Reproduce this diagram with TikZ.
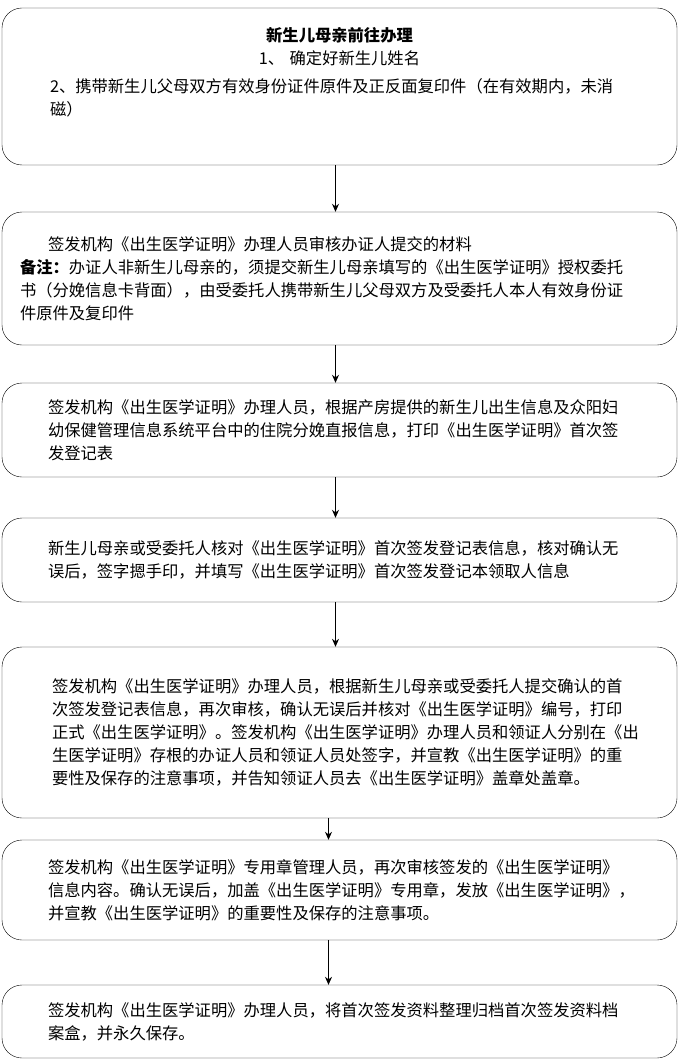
\documentclass[tikz,border=0pt]{standalone}
\usepackage{fontspec}
\setmainfont{Noto Sans CJK SC}
\usetikzlibrary{arrows.meta}
\tikzset{stepbox/.style={draw,rounded corners=20pt,minimum width=675pt,inner xsep=18pt,
		text width=639pt,align=left,font=\fontsize{16.3}{23}\selectfont},
	flow/.style={-{Stealth[length=8pt,width=7pt]},thick}}
\newcommand{\ind}[1][28pt]{\hspace*{#1}}
\begin{document}
\begin{tikzpicture}[x=1pt,y=-1pt]
	\useasboundingbox (0,0) rectangle (679,1062);
	\node[stepbox,minimum height=157pt] (b1) at (339.5,86.5) {%
		\makebox[639pt]{\bfseries 新生儿母亲前往办理}\\
		\makebox[639pt]{1、 确定好新生儿姓名}\\[5pt]
		\ind[30pt]2、携带新生儿父母双方有效身份证件原件及正反面复印件（在有效期内，未消\\
		\ind[30pt]磁）\\[8pt]
		\mbox{}};
	\node[stepbox,minimum height=133pt] (b2) at (339.5,278.5) {%
		\ind 签发机构《出生医学证明》办理人员审核办证人提交的材料\\
		\textbf{备注：}办证人非新生儿母亲的，须提交新生儿母亲填写的《出生医学证明》授权委托\\
		书（分娩信息卡背面），由受委托人携带新生儿父母双方及受委托人本人有效身份证\\
		件原件及复印件};
	\node[stepbox,minimum height=94pt] (b3) at (339.5,430) {%
		\ind 签发机构《出生医学证明》办理人员，根据产房提供的新生儿出生信息及众阳妇\\
		\ind 幼保健管理信息系统平台中的住院分娩直报信息，打印《出生医学证明》首次签\\
		\ind 发登记表};
	\node[stepbox,minimum height=84pt] (b4) at (339.5,560) {%
		\ind 新生儿母亲或受委托人核对《出生医学证明》首次签发登记表信息，核对确认无\\
		\ind 误后，签字摁手印，并填写《出生医学证明》首次签发登记本领取人信息};
	\node[stepbox,minimum height=171pt] (b5) at (339.5,732.5) {%
		\ind[32pt]签发机构《出生医学证明》办理人员，根据新生儿母亲或受委托人提交确认的首\\
		\ind[32pt]次签发登记表信息，再次审核，确认无误后并核对《出生医学证明》编号，打印\\
		\ind[32pt]正式《出生医学证明》。签发机构《出生医学证明》办理人员和领证人分别在《出\\
		\ind[32pt]生医学证明》存根的办证人员和领证人员处签字，并宣教《出生医学证明》的重\\
		\ind[32pt]要性及保存的注意事项，并告知领证人员去《出生医学证明》盖章处盖章。};
	\node[stepbox,minimum height=100pt] (b6) at (339.5,890) {%
		\ind 签发机构《出生医学证明》专用章管理人员，再次审核签发的《出生医学证明》\\
		\ind 信息内容。确认无误后，加盖《出生医学证明》专用章，发放《出生医学证明》，\\
		\ind 并宣教《出生医学证明》的重要性及保存的注意事项。};
	\node[stepbox,minimum height=73pt] (b7) at (339.5,1021.5) {%
		\ind 签发机构《出生医学证明》办理人员，将首次签发资料整理归档首次签发资料档\\
		\ind 案盒，并永久保存。};
	% connectors
	\draw[flow] ([xshift=-4pt]b1.south) -- ([xshift=-4pt]b2.north);
	\draw[flow] ([xshift=-4pt]b2.south) -- ([xshift=-4pt]b3.north);
	\draw[flow] ([xshift=-4pt]b3.south) -- ([xshift=-4pt]b4.north);
	\draw[flow] ([xshift=-4pt]b4.south) -- ([xshift=-4pt]b5.north);
	\draw[flow] ([xshift=-11pt]b5.south) -- ([xshift=-11pt]b6.north);
	\draw[flow] ([xshift=-11pt]b6.south) -- ([xshift=-11pt]b7.north);
\end{tikzpicture}
\end{document}
